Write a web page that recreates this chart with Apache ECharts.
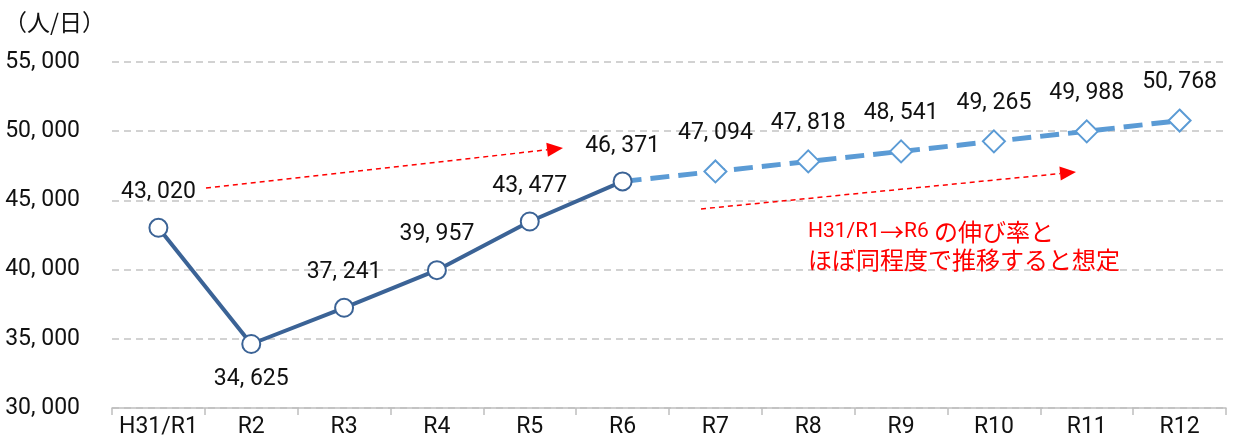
<!DOCTYPE html>
<html>
<head>
<meta charset="utf-8">
<script src="https://cdn.jsdelivr.net/npm/echarts@6/dist/echarts.min.js"></script>
<style>
  html, body { margin: 0; padding: 0; background: #fff; }
  #chart { width: 1233px; height: 446px; }
</style>
</head>
<body>
<div id="chart"></div>
<script>
// Fiscal years on the horizontal axis
const categories = ['H31/R1', 'R2', 'R3', 'R4', 'R5', 'R6', 'R7', 'R8', 'R9', 'R10', 'R11', 'R12'];
// Recorded daily users (persons/day)
const actualValues = [43020, 34625, 37241, 39957, 43477, 46371];
// Projection continuing from R6
const projectedValues = [null, null, null, null, null, 46371, 47094, 47818, 48541, 49265, 49988, 50768];
const unitLabel = '（人/日）';
const noteFrom = 'H31/R1';
const noteArrow = '→';
const noteTo = 'R6 ';
const noteLine1 = 'の伸び率と';
const noteLine2 = 'ほぼ同程度で推移すると想定';

const FONT = 'Roboto, "Noto Sans CJK JP", sans-serif';
const LABEL_SIZE = 23;
const fmt = v => {
  const s = String(Math.round(v));
  return s.length > 3 ? s.slice(0, -3) + ', ' + s.slice(-3) : s;
};

const chart = echarts.init(document.getElementById('chart'), null, { renderer: 'canvas' });

const valueLabel = {
  show: true,
  position: 'top',
  distance: 14,
  color: '#111',
  fontFamily: FONT,
  fontSize: LABEL_SIZE,
  formatter: p => fmt(p.value)
};

chart.setOption({
  animation: false,
  backgroundColor: '#ffffff',
  grid: { left: 112, right: 7, top: 62, bottom: 38, containLabel: false },
  xAxis: {
    type: 'category',
    data: categories,
    boundaryGap: true,
    axisLine: { lineStyle: { color: '#BFBFBF', width: 1.5 } },
    axisTick: { show: true, interval: 0, length: 7, lineStyle: { color: '#BFBFBF', width: 1.5 } },
    axisLabel: { interval: 0, color: '#111', fontFamily: FONT, fontSize: LABEL_SIZE, margin: 8 }
  },
  yAxis: {
    type: 'value',
    min: 30000,
    max: 55000,
    interval: 5000,
    axisLine: { show: false },
    axisTick: { show: false },
    splitLine: { lineStyle: { color: '#C4C4C4', width: 1.5, type: [7, 5] } },
    axisLabel: { color: '#111', fontFamily: FONT, fontSize: LABEL_SIZE, margin: 32, formatter: fmt }
  },
  series: [
    {
      name: '実績',
      type: 'line',
      // the R2 dip is labelled underneath its marker
      data: actualValues.map((v, i) =>
        i === 1 ? { value: v, label: { position: 'bottom', distance: 14 } } : v),
      z: 4,
      lineStyle: { color: '#3B6396', width: 4 },
      itemStyle: { color: '#ffffff', borderColor: '#3B6396', borderWidth: 2 },
      symbol: 'circle',
      symbolSize: 18,
      label: valueLabel,
      labelLayout: { hideOverlap: false },
      emphasis: { disabled: true }
    },
    {
      name: '推計',
      type: 'line',
      // R6 is shared with the recorded series, so its marker and label are drawn there
      data: projectedValues.map((v, i) => (i === 5 ? { value: v, symbol: 'none', label: { show: false } } : v)),
      z: 3,
      lineStyle: { color: '#5B9BD5', width: 5, type: [19, 9] },
      itemStyle: { color: '#ffffff', borderColor: '#5B9BD5', borderWidth: 2 },
      symbol: 'diamond',
      symbolSize: 22,
      label: Object.assign({}, valueLabel, { distance: 15 }),
      labelLayout: { hideOverlap: false },
      emphasis: { disabled: true }
    }
  ]
});

// Dashed red trend arrows
function arrow(x1, y1, x2, y2) {
  const ang = Math.atan2(y2 - y1, x2 - x1);
  const len = 16, half = 7;
  const bx = x2 - len * Math.cos(ang), by = y2 - len * Math.sin(ang);
  const nx = -Math.sin(ang) * half, ny = Math.cos(ang) * half;
  return [
    { type: 'line', shape: { x1, y1, x2: bx, y2: by },
      style: { stroke: '#FF0000', lineWidth: 1.5, lineDash: [5, 4] }, z: 10 },
    { type: 'polygon', shape: { points: [[x2, y2], [bx + nx, by + ny], [bx - nx, by - ny]] },
      style: { fill: '#FF0000' }, z: 10 }
  ];
}

const LAT_FONT = '21px Roboto, sans-serif';
const CJK_FONT = '24px "Noto Sans CJK JP", sans-serif';
const latStyle = { font: LAT_FONT, fontSize: 21, fontFamily: 'Roboto, sans-serif', fill: '#FF0000', lineHeight: 28, verticalAlign: 'middle' };
const cjkStyle = { font: CJK_FONT, fontSize: 24, fontFamily: '"Noto Sans CJK JP", sans-serif', fill: '#FF0000', lineHeight: 28, verticalAlign: 'middle' };

chart.setOption({
  graphic: [
    { type: 'text', left: 4, top: 11,
      style: { text: unitLabel, font: '23px "Noto Sans CJK JP", sans-serif', fill: '#111' } },
    ...arrow(206, 188, 563, 148),
    ...arrow(701, 209, 1076, 172),
    { type: 'text', left: 808, top: 220,
      style: {
        text: '{lat|' + noteFrom + '}{cjk|' + noteArrow + '}{lat|' + noteTo + '}{cjk|' + noteLine1 + '}\n{cjk|' + noteLine2 + '}',
        font: CJK_FONT,
        fill: '#FF0000',
        rich: { lat: latStyle, cjk: cjkStyle }
      } }
  ]
});
</script>
</body>
</html>
